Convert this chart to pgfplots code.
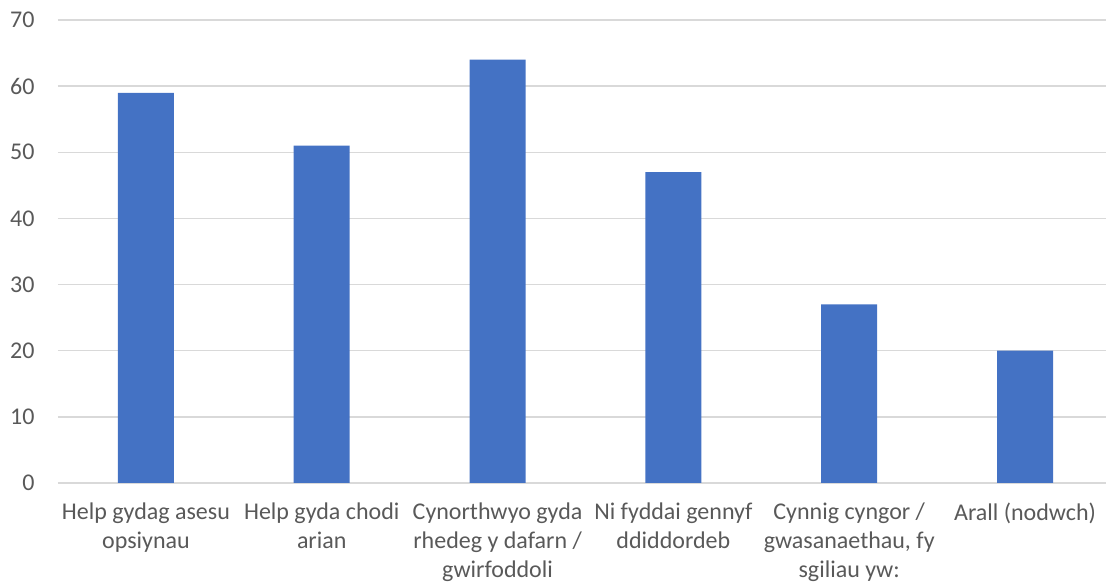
\documentclass[border=0pt]{standalone}
\usepackage{pgfplots}
\pgfplotsset{compat=1.18}
\usepackage{fontspec}
\setmainfont{Carlito}
\definecolor{barblue}{HTML}{4472C4}
\definecolor{gridgrey}{HTML}{D9D9D9}
\definecolor{txtgrey}{HTML}{595959}
\begin{document}
\begin{tikzpicture}
\useasboundingbox (-58pt,-100pt) rectangle (1048pt,483pt);
\begin{axis}[
  at={(0pt,0pt)}, anchor=south west,
  scale only axis,
  width=1055pt, height=463pt,
  xmin=-0.5, xmax=5.5,
  ymin=0, ymax=70,
  ytick={0,10,...,70},
  xtick={0,...,5},
  xticklabels={
    {Help gydag asesu\\opsiynau},
    {Help gyda chodi\\arian},
    {Cynorthwyo gyda\\rhedeg y dafarn /\\gwirfoddoli},
    {Ni fyddai gennyf\\ddiddordeb},
    {Cynnig cyngor /\\gwasanaethau, fy\\sgiliau yw:},
    {Arall (nodwch)}},
  xticklabel style={align=center, font=\fontsize{24}{29}\selectfont, text=txtgrey, anchor=north, yshift=-16pt},
  yticklabel style={font=\fontsize{24}{28}\selectfont, text=txtgrey, anchor=east, xshift=-20pt},
  /pgf/number format/assume math mode=true,
  major tick length=0pt,
  ymajorgrids,
  grid style={gridgrey, line width=1.3pt},
  axis line style={draw=none},
  axis x line*=bottom,
  clip=false,
]
\addplot[ybar, bar width=56pt, fill=barblue, draw=none] coordinates {
  (0,59) (1,51) (2,64) (3,47) (4,27) (5,20)};
\end{axis}
\end{tikzpicture}
\end{document}
